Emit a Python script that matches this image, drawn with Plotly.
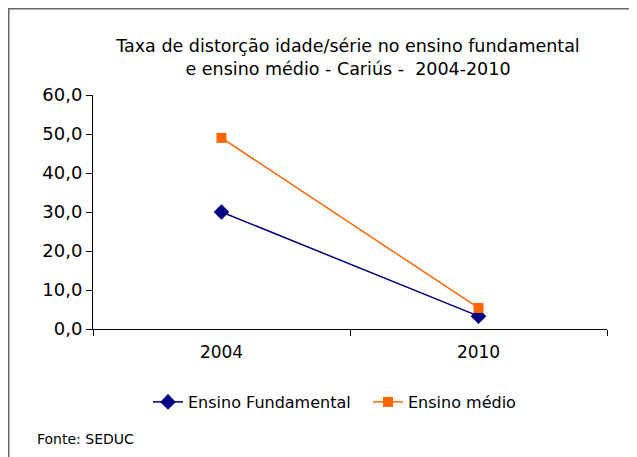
import plotly.graph_objects as go

# data
anos = ["2004", "2010"]
fundamental = [30.0, 3.3]
medio = [49.0, 5.4]
y_ticks = [0, 10, 20, 30, 40, 50, 60]
y_labels = ["0,0", "10,0", "20,0", "30,0", "40,0", "50,0", "60,0"]

fig = go.Figure()

fig.add_trace(go.Scatter(
    x=anos, y=fundamental, name="Ensino Fundamental",
    mode="lines+markers",
    line=dict(color="#000080", width=1.5),
    marker=dict(symbol="diamond", size=12, color="#000080"),
))
fig.add_trace(go.Scatter(
    x=anos, y=medio, name="Ensino médio",
    mode="lines+markers",
    line=dict(color="#FF6600", width=1.5),
    marker=dict(symbol="square", size=10, color="#FF6600"),
))

# the page body has an 8px margin, so work in screenshot pixels minus 8
OFF = 8
W, H = 637 - OFF, 457 - OFF
L, R, T, B = 93 - OFF, 607 - OFF, 95 - OFF, 329 - OFF

def px(x):
    return (x - OFF - L) / (R - L)

def py(y):
    return (B - (y - OFF)) / (B - T)

FONT = "DejaVu Sans, Arial, sans-serif"

fig.update_layout(
    width=W, height=H,
    margin=dict(l=L, r=W - R, t=T, b=H - B, pad=0),
    paper_bgcolor="white", plot_bgcolor="white",
    font=dict(family=FONT, color="black"),
    title=dict(
        text="Taxa de distorção idade/série no ensino fundamental<br>e ensino médio - Cariús -  2004-2010",
        x=(348 - OFF) / W, xanchor="center", y=1 - (52 - OFF) / H, yanchor="middle",
        font=dict(size=17.5),
    ),
    xaxis=dict(
        type="category", range=[-0.5, 1.5],
        showline=True, linecolor="black", linewidth=1,
        ticks="outside", tickson="boundaries", ticklen=6, tickcolor="black",
        showgrid=False, zeroline=False,
        tickfont=dict(size=17), ticklabelstandoff=8,
    ),
    yaxis=dict(
        range=[0, 60], tickvals=y_ticks, ticktext=y_labels,
        showline=True, linecolor="black", linewidth=1,
        ticks="outside", ticklen=6, tickcolor="black",
        showgrid=False, zeroline=False,
        tickfont=dict(size=18),
    ),
    legend=dict(
        orientation="h", x=px(148), xanchor="left", y=py(402), yanchor="middle",
        font=dict(size=16), bgcolor="rgba(0,0,0,0)", entrywidth=175,
    ),
    showlegend=True,
)

fig.add_annotation(
    text="Fonte: SEDUC", xref="paper", yref="paper",
    x=px(35), y=py(439), xanchor="left", yanchor="middle",
    showarrow=False, font=dict(size=14),
)

# grey frame visible on the top and left sides (drawn at the figure edge)
fig.add_shape(type="line", xref="paper", yref="paper",
              x0=px(OFF), x1=px(650), y0=py(OFF + 0.5), y1=py(OFF + 0.5),
              line=dict(color="#666666", width=2))
fig.add_shape(type="line", xref="paper", yref="paper",
              x0=px(OFF + 0.5), x1=px(OFF + 0.5), y0=py(OFF), y1=py(470),
              line=dict(color="#666666", width=2))

fig.write_html("out.html")
